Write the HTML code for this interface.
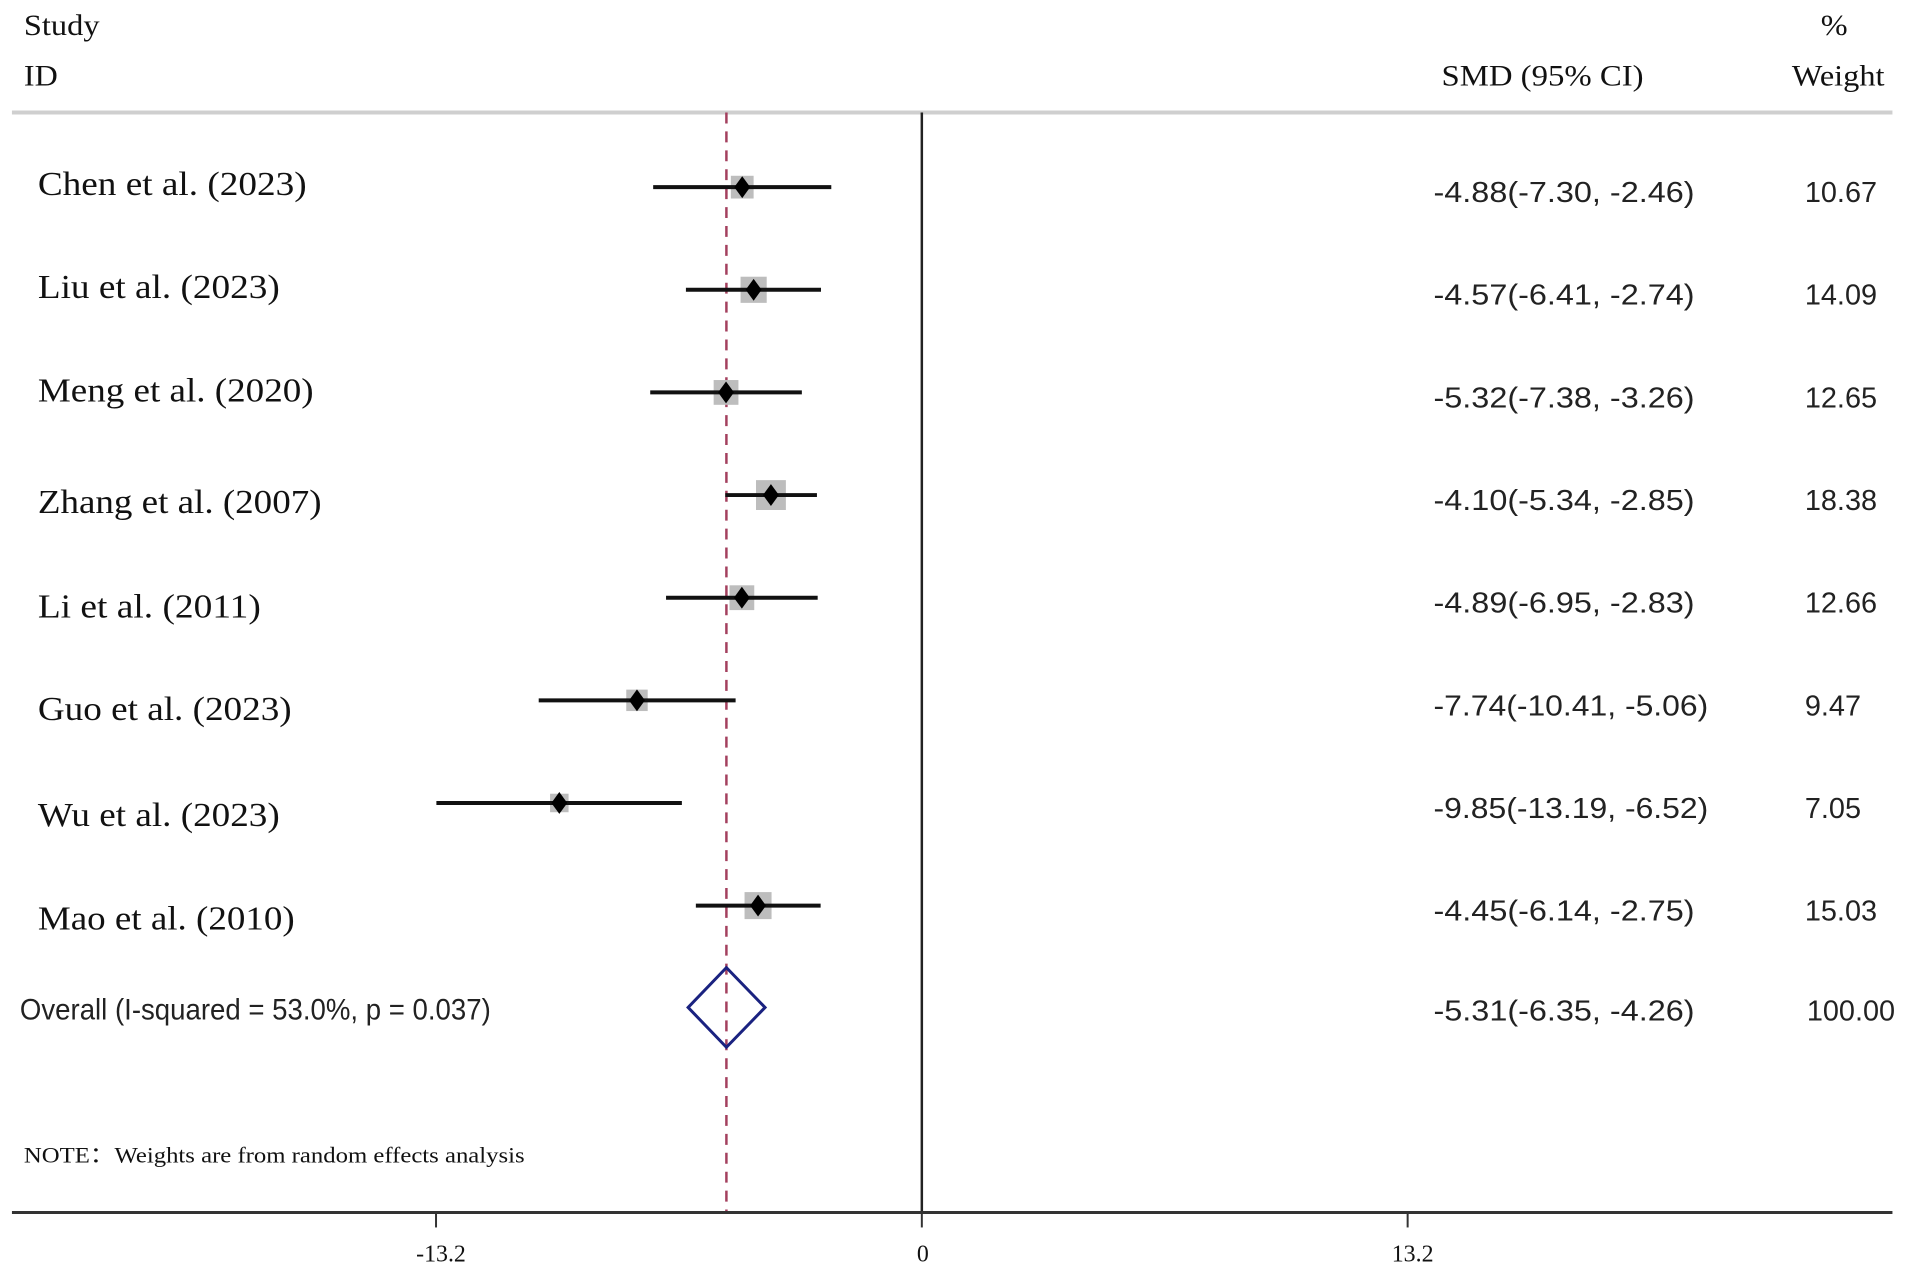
<!DOCTYPE html>
<html><head><meta charset="utf-8"><style>
html,body{margin:0;padding:0;background:#fff;}
svg{display:block;}
.serif{font-family:"Liberation Serif",serif;fill:#111;}
.sans{font-family:"Liberation Sans",sans-serif;fill:#222;}
</style></head><body>
<svg id="chart" width="1913" height="1275" viewBox="0 0 1913 1275" xmlns="http://www.w3.org/2000/svg">
 <g transform="scale(0.9955)">
  <line x1="12" y1="113" x2="1901" y2="113" stroke="#cfcfcf" stroke-width="4"/>
  <text class="serif" x="24" y="35" font-size="30" textLength="76" lengthAdjust="spacingAndGlyphs">Study</text>
  <text class="serif" x="24" y="86" font-size="30" textLength="34" lengthAdjust="spacingAndGlyphs">ID</text>
  <text class="serif" x="1448" y="86" font-size="30" textLength="203" lengthAdjust="spacingAndGlyphs">SMD (95% CI)</text>
  <text class="serif" x="1829" y="35" font-size="30" textLength="27" lengthAdjust="spacingAndGlyphs">%</text>
  <text class="serif" x="1800" y="86" font-size="30" textLength="93" lengthAdjust="spacingAndGlyphs">Weight</text>
  <g id="marks"></g>
  <text class="serif" x="24" y="1168" font-size="22" textLength="503" lengthAdjust="spacingAndGlyphs">NOTE：Weights are from random effects analysis</text>
 </g>
</svg>
<script>
const studies = ["Chen et al. (2023)","Liu et al. (2023)","Meng et al. (2020)","Zhang et al. (2007)","Li et al. (2011)","Guo et al. (2023)","Wu et al. (2023)","Mao et al. (2010)"];
const est = [-4.88,-4.57,-5.32,-4.10,-4.89,-7.74,-9.85,-4.45];
const lower = [-7.30,-6.41,-7.38,-5.34,-6.95,-10.41,-13.19,-6.14];
const upper = [-2.46,-2.74,-3.26,-2.85,-2.83,-5.06,-6.52,-2.75];
const weights = [10.67,14.09,12.65,18.38,12.66,9.47,7.05,15.03];
const overall = [-5.31,-6.35,-4.26];
const overallWeight = "100.00";
const overallLabel = "Overall  (I-squared = 53.0%, p = 0.037)";
const ticks = [-13.2,0,13.2];

const NS="http://www.w3.org/2000/svg";
const g=document.getElementById('marks');
const x0=926, pxPerUnit=36.97;
const xs=v=>x0+v*pxPerUnit;
const rowY=i=>188+i*103.1;
const overallY=1012;
const axisY=1218;
const labelW=[270,243,277,285,224,255,243,258];
const labelDy=[8,8,9,18,20,20,23,24];
function el(tag,attrs,text){const e=document.createElementNS(NS,tag);for(const k in attrs)e.setAttribute(k,attrs[k]);if(text!==undefined)e.textContent=text;g.appendChild(e);return e;}
const fmt=v=>v.toFixed(2);

let e=el('line',{x1:x0,y1:113,x2:x0,y2:axisY,stroke:'#222','stroke-width':2.5});


e=el('line',{x1:xs(overall[0]),y1:113,x2:xs(overall[0]),y2:axisY,stroke:'#a3405e','stroke-width':2.5,'stroke-dasharray':'11 8'});



studies.forEach((s,i)=>{
  const y=rowY(i);
  const side=7*Math.sqrt(weights[i]);
  let b=el('rect',{x:xs(est[i])-side/2,y:y-side/2,width:side,height:side,fill:'#bdbdbd'});
  
  
  let l=el('line',{x1:xs(lower[i]),y1:y,x2:xs(upper[i]),y2:y,stroke:'#111','stroke-width':4});
  
  
  const cx=xs(est[i]);
  let p=el('polygon',{points:`${cx},${y-11} ${cx+8},${y} ${cx},${y+11} ${cx-8},${y}`,fill:'#000'});
  
  
  let t=el('text',{x:38,y:y+labelDy[i],'font-size':34,class:'serif',textLength:labelW[i],lengthAdjust:'spacingAndGlyphs'},s);
  
  
  const txt=`${fmt(est[i])}(${fmt(lower[i])}, ${fmt(upper[i])})`;
  let c=el('text',{x:1440,y:y+15,'font-size':29,class:'sans',textLength:txt.length*13.8,lengthAdjust:'spacingAndGlyphs'},txt);
  
  
  let w=el('text',{x:1813,y:y+15,'font-size':29,class:'sans'},fmt(weights[i]));
  
  
});

const ol=xs(overall[1]),oc=xs(overall[0]),or_=xs(overall[2]);
e=el('polygon',{points:`${ol},${overallY} ${oc},${overallY-40} ${or_},${overallY} ${oc},${overallY+40}`,fill:'none',stroke:'#1a2280','stroke-width':3});


e=el('text',{x:20,y:overallY+12,'font-size':30,class:'sans',textLength:473,lengthAdjust:'spacingAndGlyphs'},overallLabel);


const otxt=`${fmt(overall[0])}(${fmt(overall[1])}, ${fmt(overall[2])})`;
e=el('text',{x:1440,y:overallY+13,'font-size':29,class:'sans',textLength:otxt.length*13.8,lengthAdjust:'spacingAndGlyphs'},otxt);


e=el('text',{x:1815,y:overallY+13,'font-size':29,class:'sans'},overallWeight);



e=el('line',{x1:12,y1:axisY,x2:1901,y2:axisY,stroke:'#333','stroke-width':3});


ticks.forEach(v=>{
  let t=el('line',{x1:xs(v),y1:axisY,x2:xs(v),y2:axisY+15,stroke:'#333','stroke-width':2});
  
  
  let lb=el('text',{x:xs(v)+(v===0?1:5),y:1267,'font-size':24,class:'serif','text-anchor':'middle'},String(v));
  
  
});
</script>
</body></html>
